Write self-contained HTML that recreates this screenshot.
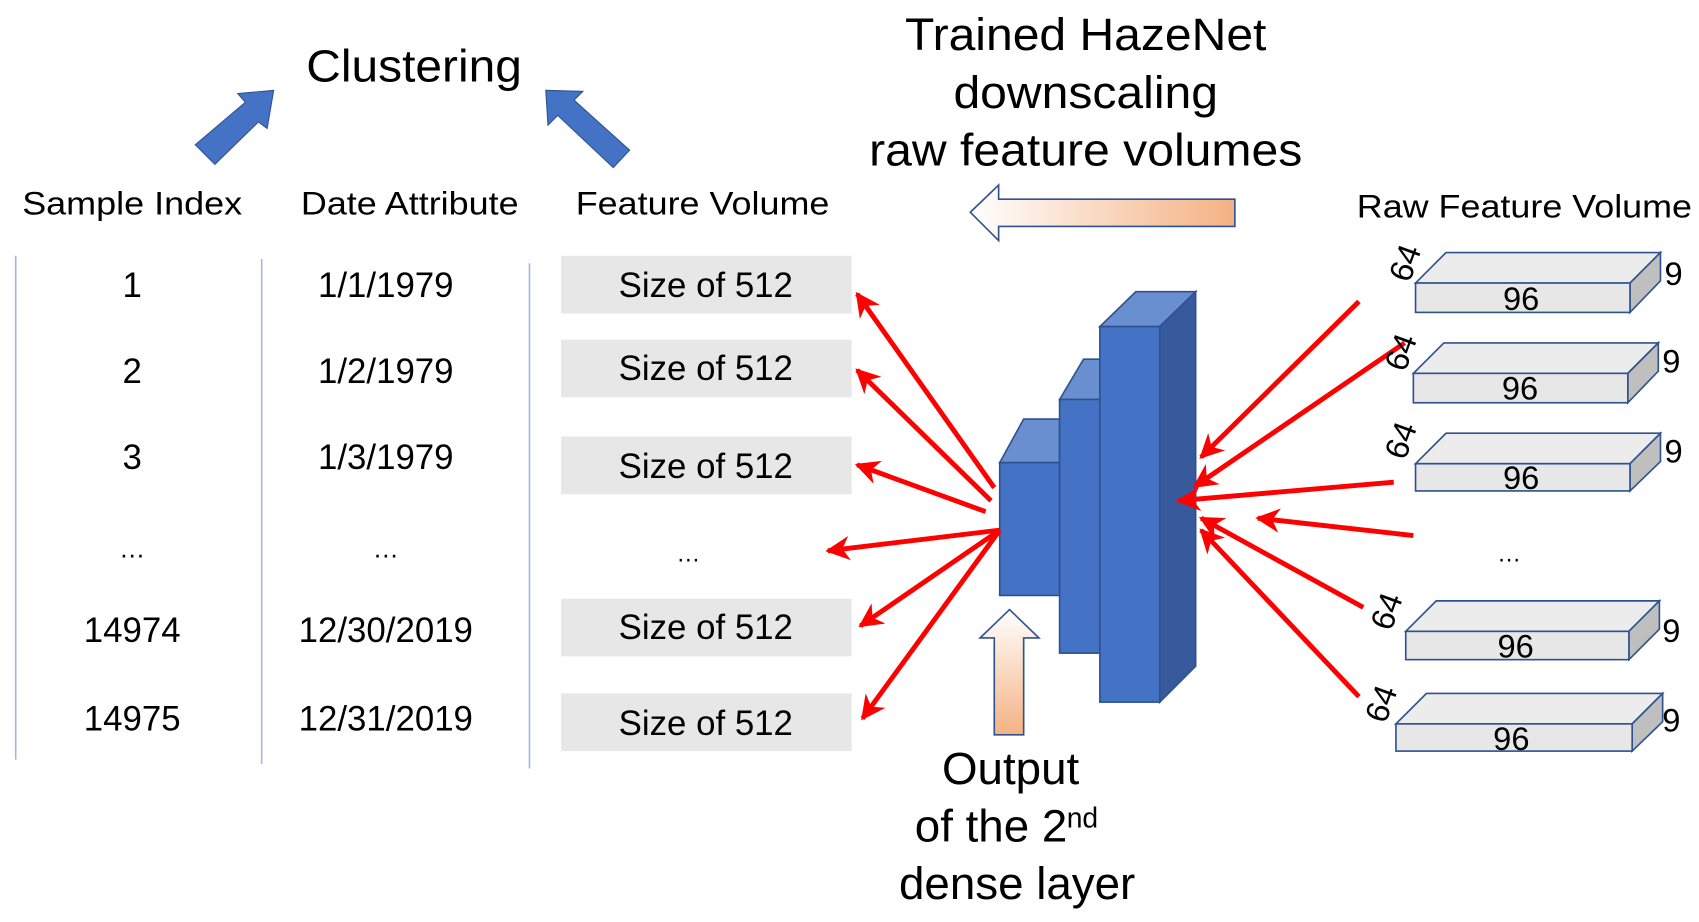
<!DOCTYPE html>
<html><head><meta charset="utf-8"><style>
html,body{margin:0;padding:0;background:#fff;}
svg{display:block;}
text{font-family:"Liberation Sans",Arial,sans-serif;fill:#000;}
</style></head><body>
<svg width="1699" height="922" viewBox="0 0 1560 847" xmlns="http://www.w3.org/2000/svg">
<defs>
<linearGradient id="gh" x1="0" y1="0" x2="1" y2="0"><stop offset="0" stop-color="#fff"/><stop offset="1" stop-color="#f4b183"/></linearGradient>
<linearGradient id="gv" x1="0" y1="0" x2="0" y2="1"><stop offset="0" stop-color="#fff"/><stop offset="1" stop-color="#f4b183"/></linearGradient>
<marker id="ah" viewBox="0 0 10 10" refX="9" refY="5" markerWidth="5" markerHeight="5" orient="auto"><path d="M0,0 L10,5 L0,10 L3,5 z" fill="#ff0000"/></marker>
</defs>

<text x="380" y="75" font-size="42" text-anchor="middle" textLength="198" lengthAdjust="spacingAndGlyphs">Clustering</text>
<polygon points="179,133 197,151 237,112 245,118 251,83 218,86 225,94" fill="#4472c4" stroke="#2f528f" stroke-width="1"/>
<polygon points="501,83 535,84 527,92 578,138 563,154 512,106 503,115" fill="#4472c4" stroke="#2f528f" stroke-width="1"/>

<g font-size="30">
<text x="121" y="197" text-anchor="middle" textLength="202" lengthAdjust="spacingAndGlyphs">Sample Index</text>
<text x="376" y="197" text-anchor="middle" textLength="200" lengthAdjust="spacingAndGlyphs">Date Attribute</text>
<text x="645" y="197" text-anchor="middle" textLength="233" lengthAdjust="spacingAndGlyphs">Feature Volume</text>
<text x="1400" y="200" text-anchor="middle" textLength="308" lengthAdjust="spacingAndGlyphs">Raw Feature Volume</text>
</g>

<g stroke="#a4b9e0" stroke-width="1.5">
<line x1="14" y1="235" x2="14" y2="698"/>
<line x1="240" y1="238" x2="240" y2="702"/>
<line x1="486" y1="242" x2="486" y2="706"/>
</g>

<g fill="#e7e7e7">
<rect x="515" y="235" width="267" height="53"/>
<rect x="515" y="312" width="267" height="53"/>
<rect x="515" y="401" width="267" height="53"/>
<rect x="515" y="550" width="267" height="53"/>
<rect x="515" y="637" width="267" height="53"/>
</g>

<g font-size="32" text-anchor="middle">
<text x="121" y="273">1</text><text x="354" y="273">1/1/1979</text><text x="648" y="273">Size of 512</text>
<text x="121" y="352">2</text><text x="354" y="352">1/2/1979</text><text x="648" y="349">Size of 512</text>
<text x="121" y="431">3</text><text x="354" y="431">1/3/1979</text><text x="648" y="439">Size of 512</text>
<text x="121" y="512" font-size="24">…</text><text x="354" y="512" font-size="24">…</text><text x="632" y="516" font-size="22">…</text>
<text x="121" y="590">14974</text><text x="354" y="590">12/30/2019</text><text x="648" y="587">Size of 512</text>
<text x="121" y="671">14975</text><text x="354" y="671">12/31/2019</text><text x="648" y="675">Size of 512</text>
</g>

<g font-size="42" text-anchor="middle">
<text x="997" y="46" textLength="332" lengthAdjust="spacingAndGlyphs">Trained HazeNet</text>
<text x="997" y="99" textLength="243" lengthAdjust="spacingAndGlyphs">downscaling</text>
<text x="997" y="152" textLength="398" lengthAdjust="spacingAndGlyphs">raw feature volumes</text>
</g>

<polygon points="891,195 917,170 917,183 1134,183 1134,208 917,208 917,221" fill="url(#gh)" stroke="#2f528f" stroke-width="1.5"/>
<polygon points="927,560 954,586 940,586 940,675 913,675 913,586 900,586" fill="url(#gv)" stroke="#2f528f" stroke-width="1.5"/>

<g font-size="42" text-anchor="middle">
<text x="928" y="720">Output</text>
<text x="910" y="773">of the 2</text><text x="994" y="760" font-size="26">nd</text>
<text x="934" y="826">dense layer</text>
</g>

<g stroke="#2f528f" stroke-width="1.5">
<polygon points="918,425 940,385 973,385 973,425" fill="#6a8fd0"/>
<rect x="918" y="425" width="55" height="122" fill="#4472c4"/>
<polygon points="973,367 995,330 1010,330 1010,367" fill="#6a8fd0"/>
<rect x="973" y="367" width="37" height="233" fill="#4472c4"/>
<polygon points="1010,300 1043,268 1098,268 1065,300" fill="#6a8fd0"/>
<polygon points="1065,300 1098,268 1098,612 1065,645" fill="#375a9c"/>
<rect x="1010" y="300" width="55" height="345" fill="#4472c4"/>
</g>

<g stroke="#ff0000" stroke-width="4.5" marker-end="url(#ah)" fill="none">
<line x1="913" y1="448" x2="787" y2="270"/>
<line x1="910" y1="460" x2="787" y2="340"/>
<line x1="905" y1="470" x2="787" y2="427"/>
<line x1="918" y1="487" x2="760" y2="506"/>
<line x1="918" y1="487" x2="790" y2="575"/>
<line x1="918" y1="487" x2="792" y2="660"/>
<line x1="1248" y1="277" x2="1103" y2="420"/>
<line x1="1290" y1="315" x2="1097" y2="447"/>
<line x1="1280" y1="443" x2="1082" y2="460"/>
<line x1="1298" y1="492" x2="1155" y2="476"/>
<line x1="1252" y1="558" x2="1103" y2="476"/>
<line x1="1248" y1="640" x2="1103" y2="487"/>
</g>

<g stroke="#2f528f" stroke-width="1.5">
<polygon points="1300,260 1328,232 1525,232 1497,260" fill="#ececec"/>
<polygon points="1497,260 1525,232 1525,258 1497,287" fill="#bfbfbf"/>
<rect x="1300" y="260" width="197" height="27" fill="#e7e7e7"/>
<polygon points="1298,343 1326,315 1523,315 1495,343" fill="#ececec"/>
<polygon points="1495,343 1523,315 1523,341 1495,370" fill="#bfbfbf"/>
<rect x="1298" y="343" width="197" height="27" fill="#e7e7e7"/>
<polygon points="1300,426 1328,398 1525,398 1497,426" fill="#ececec"/>
<polygon points="1497,426 1525,398 1525,424 1497,451" fill="#bfbfbf"/>
<rect x="1300" y="426" width="197" height="25" fill="#e7e7e7"/>
<polygon points="1291,580 1319,552 1524,552 1496,580" fill="#ececec"/>
<polygon points="1496,580 1524,552 1524,578 1496,606" fill="#bfbfbf"/>
<rect x="1291" y="580" width="205" height="26" fill="#e7e7e7"/>
<polygon points="1282,665 1310,637 1527,637 1499,665" fill="#ececec"/>
<polygon points="1499,665 1527,637 1527,663 1499,690" fill="#bfbfbf"/>
<rect x="1282" y="665" width="217" height="25" fill="#e7e7e7"/>
</g>
<g font-size="30" text-anchor="middle">
<text x="1397" y="285">96</text><text x="1396" y="367">96</text><text x="1397" y="449">96</text><text x="1392" y="604">96</text><text x="1388" y="689">96</text>
<text x="1537" y="262">9</text><text x="1535" y="342">9</text><text x="1537" y="425">9</text><text x="1535" y="590">9</text><text x="1535" y="672">9</text>
<text transform="translate(1300,245) rotate(-70)">64</text>
<text transform="translate(1296,327) rotate(-70)">64</text>
<text transform="translate(1296,408) rotate(-70)">64</text>
<text transform="translate(1283,565) rotate(-70)">64</text>
<text transform="translate(1278,650) rotate(-70)">64</text>
<text x="1386" y="516" font-size="22">…</text>
</g>
</svg>
</body></html>
